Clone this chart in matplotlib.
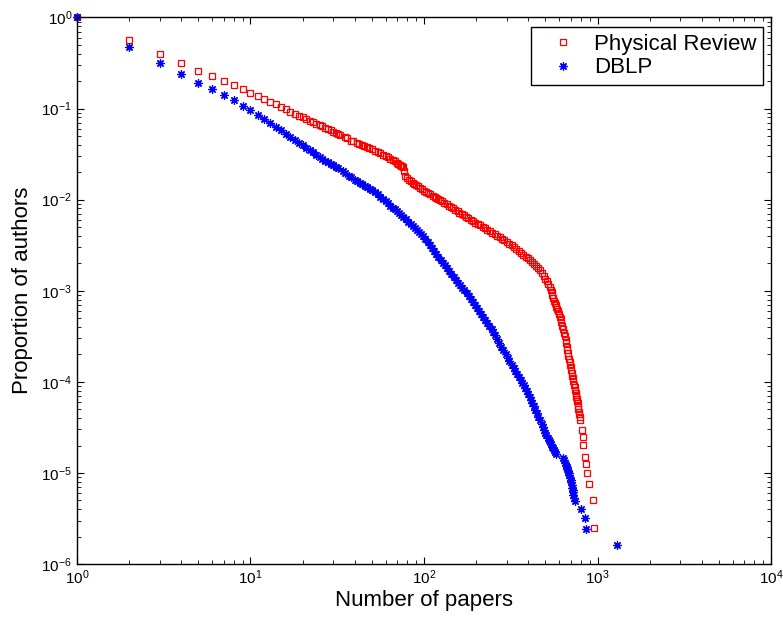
import matplotlib
matplotlib.use('Agg')
import matplotlib.pyplot as plt

plt.rcParams['font.family'] = ['Liberation Sans', 'DejaVu Sans']
plt.rcParams['mathtext.fontset'] = 'custom'
plt.rcParams['mathtext.rm'] = 'Liberation Sans'
plt.rcParams['mathtext.it'] = 'Liberation Sans:italic'

# Physical Review: 论文数 -> 作者比例
pr_papers = [1, 2, 3, 4, 5, 6, 7, 8, 9, 10, 11, 12, 13, 14, 15, 16, 17, 18, 19, 20,
             21, 22, 23, 24, 25, 26, 27, 28, 29, 30, 31, 32, 33, 35, 36, 38, 39, 41, 42,
             44, 45, 47, 48, 50, 52, 54, 56, 58, 60, 62, 64, 66, 68, 70, 71, 73, 74, 75,
             76, 77, 78, 80, 82, 84, 86, 88, 90, 92, 95, 97, 100, 103, 106, 109, 112, 115,
             118, 121, 124, 127, 131, 135, 139, 143, 147, 151, 156, 160, 165, 170, 175,
             180, 186, 192, 198, 204, 211, 218, 225, 232, 240, 248, 256, 264, 273, 282,
             291, 300, 310, 320, 330, 340, 351, 362, 374, 386, 398, 409, 420, 431, 442,
             454, 466, 478, 490, 500, 510, 521, 532, 538, 545, 550, 556, 562, 569, 574,
             580, 586, 592, 600, 608, 614, 620, 627, 635, 642, 650, 655, 660, 665, 670,
             674, 679, 684, 690, 695, 700, 705, 710, 715, 720, 726, 732, 737, 743, 747,
             752, 756, 761, 765, 769, 773, 777, 781, 785, 789, 793,
             811, 820, 828, 844, 855, 870, 893, 946, 955]
pr_prop = [1.0, 0.56, 0.40, 0.32, 0.26, 0.226, 0.200, 0.180, 0.163, 0.147, 0.137, 0.126,
           0.118, 0.111, 0.105, 0.099, 0.0925, 0.088, 0.0839, 0.0803,
           0.077, 0.0738, 0.0711, 0.0685, 0.066, 0.0638, 0.0616, 0.0596, 0.0576, 0.0558,
           0.0541, 0.0526, 0.0511, 0.0483, 0.0471, 0.0446, 0.0436, 0.0416, 0.0409,
           0.0394, 0.0388, 0.0374, 0.0368, 0.0356, 0.0344, 0.0333, 0.0322, 0.0311, 0.0301,
           0.0292, 0.0282, 0.0273, 0.0263, 0.0254, 0.0249, 0.0242, 0.0237, 0.0234,
           0.0230, 0.0208, 0.0182, 0.0172, 0.0164, 0.0159, 0.0154, 0.0149, 0.0145, 0.0141,
           0.0135, 0.0131, 0.0126, 0.0122, 0.0118, 0.0114, 0.0111, 0.0108,
           0.0105, 0.0102, 0.0099, 0.0096, 0.00927, 0.0089, 0.00861, 0.0083, 0.00805,
           0.00776, 0.00748, 0.00722, 0.00698, 0.00673, 0.0065,
           0.00627, 0.00604, 0.00582, 0.0056, 0.0054, 0.00521, 0.00502, 0.00484, 0.00466,
           0.00449, 0.00433, 0.00417, 0.00401, 0.00386, 0.00372,
           0.00359, 0.00344, 0.0033, 0.00315, 0.0030, 0.00287, 0.00274, 0.00261, 0.00248,
           0.00237, 0.00226, 0.00216, 0.00207, 0.00197, 0.00188,
           0.00179, 0.0017, 0.00157, 0.00145, 0.00136, 0.00127, 0.00119, 0.00111, 0.00103,
           0.00096, 0.0009, 0.00084, 0.00078, 0.00073, 0.000695,
           0.00066, 0.00063, 0.0006, 0.00056, 0.00052, 0.000485, 0.00045, 0.000415, 0.00038,
           0.000347, 0.000316, 0.00029, 0.000265, 0.000244, 0.000224,
           0.000207, 0.00019, 0.000177, 0.000164, 0.000154, 0.000144, 0.000134, 0.000124,
           0.000116, 0.000109, 0.000101, 9.3e-5, 8.7e-5, 8.1e-5, 7.6e-5,
           7.2e-5, 6.8e-5, 6.4e-5, 6.1e-5, 5.8e-5, 5.4e-5, 5.0e-5, 4.7e-5, 4.4e-5, 4.1e-5,
           3.8e-5,
           2.96e-5, 2.5e-5, 2.04e-5, 1.5e-5, 1.25e-5, 1.0e-5, 7.5e-6, 5.0e-6, 2.5e-6]

# DBLP
dblp_papers = [1, 2, 3, 4, 5, 6, 7, 8, 9, 10, 11, 12, 13, 14, 15, 16, 17, 18, 19, 20,
               21, 22, 23, 24, 25, 26, 27, 28, 29, 30, 31, 32, 34, 35, 37, 38, 40, 41, 43,
               44, 46, 47, 49, 50, 52, 54, 56, 58, 60, 62, 64, 66, 68, 70, 72, 74, 76, 79,
               81, 84, 86, 89, 91, 94, 96, 99, 102, 105, 108, 111, 114, 118, 121, 125, 128,
               132, 136, 140, 144, 148, 152, 157, 161, 166, 171, 176, 181, 186, 191, 197,
               202, 208, 214, 220, 226, 232, 238, 245, 251, 258, 265, 272, 279, 287, 295,
               303, 311, 320, 328, 336, 344, 352, 360, 368, 376, 384, 392, 400, 407, 415,
               422, 430, 439, 448, 457, 467, 476, 485, 492, 500, 507, 515, 522, 530, 537,
               545, 552, 560, 567, 575,
               635, 642, 650, 657, 664, 670, 676, 682, 688, 694, 699, 704, 710, 714, 718,
               722, 726, 731, 737, 807, 844, 858, 1300]
dblp_prop = [1.0, 0.47, 0.313, 0.238, 0.19, 0.162, 0.140, 0.123, 0.108, 0.0955, 0.0849,
             0.0767, 0.070, 0.0634, 0.0578, 0.053, 0.0489, 0.0454, 0.0424, 0.0397,
             0.0373, 0.0351, 0.033, 0.0312, 0.0295, 0.028, 0.0268, 0.0257, 0.0247, 0.0238,
             0.023, 0.0222, 0.0205, 0.0198, 0.0184, 0.0177, 0.0165, 0.016, 0.0152,
             0.0148, 0.0141, 0.0138, 0.0132, 0.0129, 0.0122, 0.0115, 0.0108, 0.0102, 0.0096,
             0.0091, 0.0086, 0.0082, 0.0078, 0.00743, 0.0071, 0.00676, 0.0064, 0.00607,
             0.0057, 0.0054, 0.0051, 0.00485, 0.0046, 0.00438, 0.0042, 0.00398, 0.0037,
             0.00343, 0.0032, 0.00297, 0.00273, 0.00251, 0.00234, 0.00219, 0.00204,
             0.0019, 0.00176, 0.00163, 0.00152, 0.00142, 0.00132, 0.00123, 0.00115, 0.00108,
             0.00101, 0.00094, 0.00087, 0.00081, 0.00075, 0.0007,
             0.00065, 0.0006, 0.00056, 0.00052, 0.00048, 0.000446, 0.00041, 0.00038, 0.00035,
             0.000323, 0.000294, 0.000268, 0.000244, 0.000222, 0.000203,
             0.000185, 0.000169, 0.000153, 0.000141, 0.00013, 0.000121, 0.000113, 0.000105,
             9.8e-5, 9.2e-5, 8.6e-5, 8.0e-5, 7.4e-5, 6.8e-5, 6.3e-5,
             5.8e-5, 5.4e-5, 4.9e-5, 4.5e-5, 4.1e-5, 3.8e-5, 3.45e-5, 3.18e-5, 2.97e-5,
             2.77e-5, 2.6e-5, 2.42e-5, 2.3e-5, 2.17e-5, 2.06e-5,
             1.95e-5, 1.86e-5, 1.77e-5, 1.7e-5, 1.62e-5,
             1.45e-5, 1.37e-5, 1.3e-5, 1.23e-5, 1.17e-5, 1.1e-5, 1.05e-5, 1.0e-5, 9.5e-6,
             8.9e-6, 8.4e-6, 7.9e-6, 7.4e-6, 6.9e-6, 6.5e-6,
             6.1e-6, 5.7e-6, 5.3e-6, 4.9e-6, 4.0e-6, 3.2e-6, 2.4e-6, 1.6e-6]

fig = plt.figure(figsize=(7.83, 6.20), dpi=100)
ax = fig.add_axes([0.0983, 0.0903, 0.8864, 0.8815])

ax.loglog(pr_papers, pr_prop, linestyle='none', marker='s', markersize=4,
          markerfacecolor='none', markeredgecolor='r', markeredgewidth=0.9,
          label='Physical Review', clip_on=False)
ax.loglog(dblp_papers, dblp_prop, linestyle='none', marker=(8, 2, 0), markersize=6,
          color='b', markeredgewidth=0.9, label='DBLP', clip_on=False)

ax.set_xlim(1, 1e4)
ax.set_ylim(1e-6, 1)
ax.set_xlabel('Number of papers', fontsize=16, labelpad=2)
ax.set_ylabel('Proportion of authors', fontsize=16, labelpad=6)

ax.tick_params(which='both', direction='in', top=True, right=True, labelsize=11)
ax.tick_params(which='major', length=5, width=0.8)
ax.tick_params(which='minor', length=3, width=0.6)
for s in ax.spines.values():
    s.set_linewidth(1.0)

leg = ax.legend(loc='upper right', bbox_to_anchor=(763 / 783, 1 - 27 / 620),
                bbox_transform=fig.transFigure, borderaxespad=0,
                numpoints=1, fontsize=16, fancybox=False,
                edgecolor='black', framealpha=1, borderpad=0.3, handlelength=2.3,
                handletextpad=0.25, labelspacing=0.12)
leg.get_frame().set_linewidth(1.0)

plt.savefig('out.png', dpi=100)
